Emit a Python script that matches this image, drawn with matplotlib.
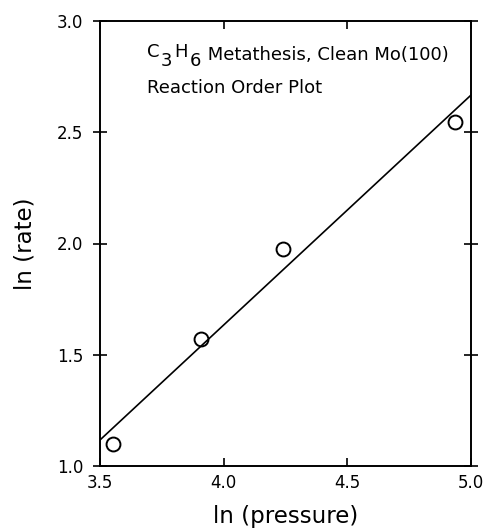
import numpy as np
import matplotlib
matplotlib.use('Agg')
import matplotlib.pyplot as plt

# data
ln_pressure = [3.554, 3.908, 4.241, 4.935]
ln_rate = [1.098, 1.569, 1.977, 2.546]

# fitted line end points
fit_x = [3.5, 5.0]
fit_y = [1.117, 2.667]

fig = plt.figure(figsize=(4.86, 5.32), dpi=100)
ax = fig.add_axes([100/486, 1 - 466/532, 371/486, 445/532])

ax.plot(fit_x, fit_y, 'k-', linewidth=1.2)
ax.plot(ln_pressure, ln_rate, 'o', markersize=10, markerfacecolor='none',
        markeredgecolor='k', markeredgewidth=1.4)

ax.set_xlim(3.5, 5.0)
ax.set_ylim(1.0, 3.0)
ax.set_xticks([3.5, 4.0, 4.5, 5.0])
ax.set_yticks([1.0, 1.5, 2.0, 2.5, 3.0])
ax.set_xticklabels(['3.5', '4.0', '4.5', '5.0'])
ax.set_yticklabels(['1.0', '1.5', '2.0', '2.5', '3.0'])

ax.tick_params(axis='x', direction='in', top=True, length=6, width=1.2,
               labelsize=12, pad=6)
ax.tick_params(axis='y', direction='inout', right=True, length=10, width=1.2,
               labelsize=12, pad=7)
for s in ax.spines.values():
    s.set_linewidth(1.4)

ax.set_xlabel('ln (pressure)', fontsize=16.5, labelpad=9)
ax.set_ylabel('ln (rate)', fontsize=16.5, labelpad=15)

# formula: C and H sit a bit high, 3 and 6 drop below the baseline
fs = 13
t = ax.annotate('C', xy=(0.127, 0.912), xycoords='axes fraction',
                xytext=(0, 2.5), textcoords='offset points', fontsize=fs,
                va='baseline', ha='left')
t = ax.annotate('3', xy=(1, 0), xycoords=t, xytext=(1, -7),
                textcoords='offset points', fontsize=fs, va='bottom')
t = ax.annotate('H', xy=(1, 0), xycoords=t, xytext=(1, 7),
                textcoords='offset points', fontsize=fs, va='bottom')
t = ax.annotate('6', xy=(1, 0), xycoords=t, xytext=(2, -7),
                textcoords='offset points', fontsize=fs, va='bottom')
ax.annotate(' Metathesis, Clean Mo(100)', xy=(1, 0), xycoords=t,
            xytext=(0, 4.5), textcoords='offset points', fontsize=fs,
            va='bottom')
ax.text(0.127, 0.838, 'Reaction Order Plot', transform=ax.transAxes,
        fontsize=fs, va='baseline', ha='left')

fig.savefig('out.png', dpi=100)
